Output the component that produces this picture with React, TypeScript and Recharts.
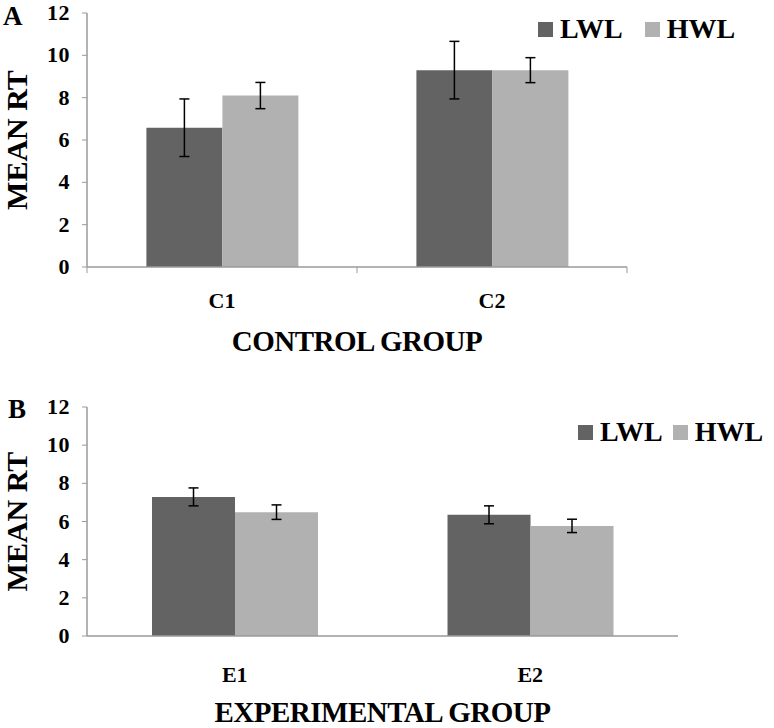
import { Bar, BarChart, ErrorBar, Label, Legend, XAxis, YAxis } from "recharts";

const controlGroups = ["C1", "C2"];
const controlLwl = [6.58, 9.3];
const controlHwl = [8.1, 9.3];
const controlLwlErr = [1.36, 1.36];
const controlHwlErr = [0.62, 0.59];

const expGroups = ["E1", "E2"];
const expLwl = [7.29, 6.35];
const expHwl = [6.49, 5.77];
const expLwlErr = [0.47, 0.47];
const expHwlErr = [0.38, 0.35];

const yTicks = [0, 2, 4, 6, 8, 10, 12];
const seriesOrder = ["LWL", "HWL"];

const FONT = "'Liberation Serif', 'Times New Roman', serif";
const DARK = "#636363";
const LIGHT = "#b1b1b1";
const AXIS = "#9a9a9a";

function buildRows(groups: string[], lwl: number[], hwl: number[], lwlErr: number[], hwlErr: number[]) {
  return groups.map((group, i) => ({
    group,
    lwl: lwl[i],
    hwl: hwl[i],
    lwlErr: lwlErr[i],
    hwlErr: hwlErr[i],
  }));
}

const controlRows = buildRows(controlGroups, controlLwl, controlHwl, controlLwlErr, controlHwlErr);
const expRows = buildRows(expGroups, expLwl, expHwl, expLwlErr, expHwlErr);

interface PanelProps {
  rows: ReturnType<typeof buildRows>;
  top: number;
  height: number;
  margin: { top: number; right: number; bottom: number; left: number };
  xAxisHeight: number;
  letter: string;
  letterX: number;
  letterY: number;
  title: string;
  titleOffset: number;
  tickOffset: number;
  boundaryTicks: boolean;
  legendLeft: number;
  legendTop: number;
  legendGap: number;
}

function LegendBox({ payload, gap }: { payload?: Array<{ value?: string; color?: string }>; gap: number }) {
  const items = [...(payload ?? [])].sort(
    (a, b) => seriesOrder.indexOf(a.value ?? "") - seriesOrder.indexOf(b.value ?? "")
  );
  return (
    <div style={{ display: "flex", alignItems: "center", gap, fontFamily: FONT }}>
      {items.map((entry) => (
        <div key={entry.value} style={{ display: "flex", alignItems: "center", gap: 7 }}>
          <span style={{ width: 15, height: 15, background: entry.color, display: "inline-block" }} />
          <span style={{ fontSize: 28, fontWeight: 700, lineHeight: "28px", color: "#000" }}>{entry.value}</span>
        </div>
      ))}
    </div>
  );
}

function Panel({
  rows,
  top,
  height,
  margin,
  xAxisHeight,
  letter,
  letterX,
  letterY,
  title,
  titleOffset,
  tickOffset,
  boundaryTicks,
  legendLeft,
  legendTop,
  legendGap,
}: PanelProps) {
  const plotWidth = 774 - margin.left - margin.right - 87;
  const halfBand = plotWidth / rows.length / 2;
  const plotTop = margin.top;
  const plotHeight = height - margin.top - margin.bottom - xAxisHeight;

  const renderTick = (props: any) => {
    const { x, y, payload, index } = props;
    return (
      <g>
        {boundaryTicks ? (
          <line x1={x + halfBand} y1={y} x2={x + halfBand} y2={y + 6} stroke={AXIS} />
        ) : null}
        {boundaryTicks && index === 0 ? (
          <line x1={x - halfBand} y1={y} x2={x - halfBand} y2={y + 6} stroke={AXIS} />
        ) : null}
        <text
          x={x}
          y={y + tickOffset}
          textAnchor="middle"
          fontFamily={FONT}
          fontWeight="bold"
          fontSize={22}
          fill="#000"
        >
          {payload.value}
        </text>
      </g>
    );
  };

  const renderYTick = (props: any) => {
    const { y, payload } = props;
    return (
      <text
        x={70}
        y={y + 7}
        textAnchor="end"
        fontFamily={FONT}
        fontWeight="bold"
        fontSize={22}
        letterSpacing={0.5}
        fill="#000"
      >
        {payload?.value}
      </text>
    );
  };

  return (
    <div style={{ position: "absolute", left: 0, top, fontFamily: FONT, fontWeight: 700 }}>
      <BarChart
        width={774}
        height={height}
        data={rows}
        margin={margin}
        barCategoryGap="22%"
        barGap={0}
      >
        <XAxis
          dataKey="group"
          height={xAxisHeight}
          interval={0}
          tickSize={0}
          tickMargin={0}
          tickLine={false}
          axisLine={{ stroke: AXIS, strokeWidth: 1.5 }}
          tick={renderTick}
        >
          <Label
            content={(p: any) => {
              const vb = p.viewBox ?? {};
              return (
                <text
                  x={vb.x + vb.width / 2}
                  y={vb.y + titleOffset}
                  textAnchor="middle"
                  fontFamily={FONT}
                  fontWeight={700}
                  fontSize={29}
                  letterSpacing={-0.5}
                  fill="#000"
                >
                  {title}
                </text>
              );
            }}
          />
        </XAxis>
        <YAxis
          width={87}
          domain={[0, 12]}
          ticks={yTicks}
          interval={0}
          tickSize={5}
          tickMargin={12}
          axisLine={{ stroke: AXIS, strokeWidth: 1.5 }}
          tickLine={{ stroke: AXIS }}
          tick={renderYTick}
        >
          <Label
            content={() => {
              const cy = plotTop + plotHeight / 2;
              return (
                <g>
                  <text
                    x={27}
                    y={cy}
                    transform={`rotate(-90, 27, ${cy})`}
                    textAnchor="middle"
                    fontFamily={FONT}
                    fontWeight={700}
                    fontSize={30}
                    fill="#000"
                  >
                    MEAN RT
                  </text>
                  <text x={letterX} y={letterY} fontFamily={FONT} fontWeight={700} fontSize={27} fill="#000">
                    {letter}
                  </text>
                </g>
              );
            }}
          />
        </YAxis>
        <Legend
          layout="horizontal"
          verticalAlign="middle"
          align="center"
          wrapperStyle={{ left: legendLeft, top: legendTop, width: "auto", right: "auto" }}
          content={(p: any) => <LegendBox payload={p.payload} gap={legendGap} />}
        />
        <Bar dataKey="lwl" name="LWL" fill={DARK} isAnimationActive={false}>
          <ErrorBar dataKey="lwlErr" direction="y" width={5} stroke="#000" strokeWidth={1.5} />
        </Bar>
        <Bar dataKey="hwl" name="HWL" fill={LIGHT} isAnimationActive={false}>
          <ErrorBar dataKey="hwlErr" direction="y" width={5} stroke="#000" strokeWidth={1.5} />
        </Bar>
      </BarChart>
    </div>
  );
}

export default function App() {
  return (
    <div style={{ position: "fixed", left: 0, top: 0, width: 774, height: 728, background: "#fff" }}>
      <Panel
        rows={controlRows}
        top={0}
        height={380}
        margin={{ top: 13, right: 147, bottom: 0, left: 0 }}
        xAxisHeight={113}
        letter="A"
        letterX={3}
        letterY={25}
        title="CONTROL GROUP"
        titleOffset={84}
        tickOffset={41}
        boundaryTicks
        legendLeft={538}
        legendTop={15}
        legendGap={22}
      />
      <Panel
        rows={expRows}
        top={380}
        height={348}
        margin={{ top: 27, right: 96, bottom: 0, left: 0 }}
        xAxisHeight={92}
        letter="B"
        letterX={8}
        letterY={38}
        title="EXPERIMENTAL GROUP"
        titleOffset={86}
        tickOffset={46}
        boundaryTicks={false}
        legendLeft={578}
        legendTop={38}
        legendGap={10}
      />
    </div>
  );
}
